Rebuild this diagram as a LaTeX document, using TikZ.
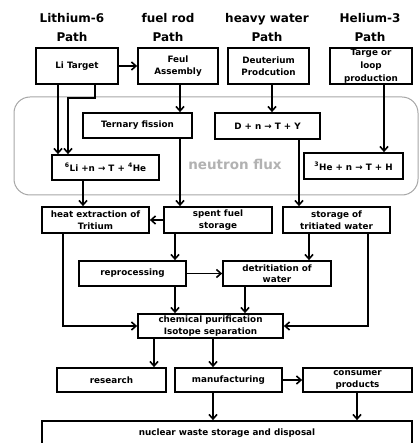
\documentclass[tikz,border=0pt]{standalone}
\usepackage{fontspec}
\setmainfont{DejaVu Sans}
\usetikzlibrary{arrows.meta}
\begin{document}
\begin{tikzpicture}[x=1pt,y=-1pt,
  box/.style={draw, line width=1.7pt, fill=white, align=center, inner sep=0pt,
    font=\fontsize{8.8}{11.5}\selectfont\bfseries, minimum height=25pt},
  hdr/.style={align=center, font=\fontsize{12}{19}\selectfont\bfseries},
  arr/.style={line width=1.6pt, -{Straight Barb[length=4.5pt,width=8pt,line width=1.6pt]}}]
\useasboundingbox (0,0) rectangle (419,443);
% neutron flux region
\draw[black!35, line width=1pt, rounded corners=16pt] (14,97) rectangle (418,195);
\node[text=black!30, font=\fontsize{13.5}{16}\selectfont\bfseries] (nf) at (235,164) {neutron flux};
% headers
\node[hdr] (h1) at (72,28) {Lithium-6\\Path};
\node[hdr] (h2) at (168,28) {fuel rod\\Path};
\node[hdr] (h3) at (267,28) {heavy water\\Path};
\node[hdr] (h4) at (370,28) {Helium-3\\Path};
% top boxes
\node[box, minimum width=82pt, minimum height=36pt] (LiT) at (77,66) {Li Target};
\node[box, minimum width=80pt, minimum height=36pt] (FA) at (178,66) {Feul\\Assembly};
\node[box, minimum width=81pt, minimum height=36pt] (DP) at (268.5,66) {Deuterium\\Prodcution};
\node[box, minimum width=82pt, minimum height=36pt, font=\fontsize{8.8}{13}\selectfont\bfseries] (TL) at (371,66) {Targe or\\loop\\production};
% reactions
\node[box, minimum width=109pt] (TF) at (137.5,125.5) {Ternary fission};
\node[box, minimum width=105pt, minimum height=26pt] (DnT) at (267.5,126) {D + n → T + Y};
\node[box, minimum width=107pt] (Li6) at (105.5,167.5) {\textsuperscript{6}Li +n → T + \textsuperscript{4}He};
\node[box, minimum width=99pt, minimum height=26pt] (He3) at (353.5,166) {\textsuperscript{3}He + n → T + H};
% storage row
\node[box, minimum width=107pt, minimum height=26pt] (HE) at (95.5,220) {heat extraction of\\Tritium};
\node[box, minimum width=108pt, minimum height=26pt] (SF) at (218,220) {spent fuel\\storage};
\node[box, minimum width=107pt, minimum height=26pt] (ST) at (336.5,220) {storage of\\tritiated water};
\node[box, minimum width=107pt] (RP) at (132.5,273.5) {reprocessing};
\node[box, minimum width=108pt] (DW) at (277,273.5) {detritiation of\\water};
\node[box, minimum width=145pt, minimum height=24pt] (CP) at (210.5,326) {chemical purification\\Isotope separation};
\node[box, minimum width=109pt, minimum height=24pt] (RS) at (111.5,380) {research};
\node[box, minimum width=107pt, minimum height=24pt] (MF) at (228.5,380) {manufacturing};
\node[box, minimum width=109pt, minimum height=24pt] (CO) at (357.5,380) {consumer\\products};
\node[box, minimum width=370pt, minimum height=0pt, inner ysep=8pt, text height=6pt, text depth=2pt] (NW) at (227,433) {nuclear waste storage and disposal};
% connectors
\draw[arr] (LiT.east) -- (FA.west);
\draw[arr] (LiT.south -| 58,0) -- (Li6.north -| 58,0);
\draw[arr] (LiT.south -| 95,0) |- (68,98) -- (Li6.north -| 68,0);
\draw[arr] (FA.south -| 180,0) -- (TF.north -| 180,0);
\draw[arr] (DP.south -| 272,0) -- (DnT.north -| 272,0);
\draw[arr] (TL.south -| 384,0) -- (He3.north -| 384,0);
\draw[arr] (Li6.south -| 83,0) -- (HE.north -| 83,0);
\draw[arr] (TF.south -| 180,0) -- (SF.north -| 180,0);
\draw[arr] (DnT.south -| 299,0) -- (ST.north -| 299,0);
\draw[arr] (SF.west) -- (HE.east);
\draw[arr] (SF.south -| 175,0) -- (RP.north -| 175,0);
\draw[arr] (ST.south -| 309,0) -- (DW.north -| 309,0);
\draw[arr] (RP.east) -- (DW.west);
\draw[arr] (HE.south -| 63,0) |- (CP.west);
\draw[arr] (ST.south -| 368,0) |- (CP.east);
\draw[arr] (RP.south -| 175,0) -- (CP.north -| 175,0);
\draw[arr] (DW.south -| 245,0) -- (CP.north -| 245,0);
\draw[arr] (CP.south -| 154,0) -- (RS.north -| 154,0);
\draw[arr] (CP.south -| 213,0) -- (MF.north -| 213,0);
\draw[arr] (MF.east) -- (CO.west);
\draw[arr] (MF.south -| 213,0) -- (NW.north -| 213,0);
\draw[arr] (CO.south -| 357,0) -- (NW.north -| 357,0);
\end{tikzpicture}
\end{document}
